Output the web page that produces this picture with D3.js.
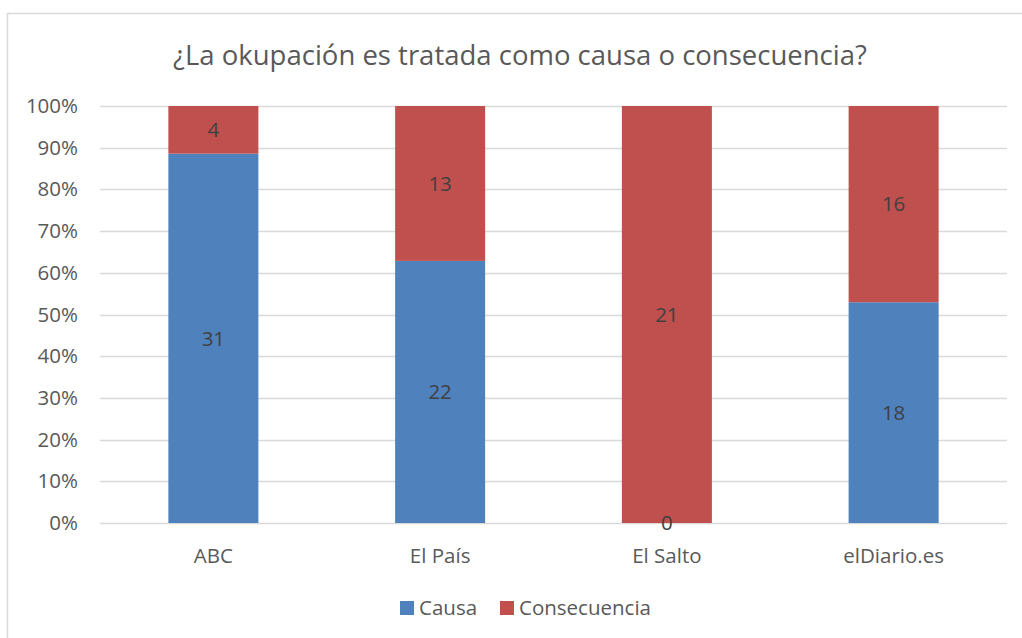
<!DOCTYPE html>
<html>
<head>
<meta charset="utf-8">
<script src="https://cdn.jsdelivr.net/npm/d3@7"></script>
<style>
  body { margin: 0; background: #fff; }
  text { font-family: "Open Sans", "Noto Sans", sans-serif; }
</style>
</head>
<body>
<svg id="chart" width="1022" height="638"></svg>
<script>
// categories and series
var categories = ["ABC", "El País", "El Salto", "elDiario.es"];
var causa = [31, 22, 0, 18];
var consecuencia = [4, 13, 21, 16];
var seriesNames = ["Causa", "Consecuencia"];
var seriesColors = ["#4F81BD", "#C0504D"];
var tickValues = [0, 0.1, 0.2, 0.3, 0.4, 0.5, 0.6, 0.7, 0.8, 0.9, 1];

var svg = d3.select("#chart");
var labelSize = 20.5;

// outer frame like the office chart border
svg.append("rect")
  .attr("x", 7.5).attr("y", 13.5)
  .attr("width", 1030).attr("height", 640)
  .attr("fill", "#fff")
  .attr("stroke", "#d9d9d9")
  .attr("stroke-width", 1.5);

var plot = { left: 100, right: 1007, top: 106, bottom: 523 };

var x = d3.scaleBand()
  .domain(categories)
  .range([plot.left, plot.right])
  .paddingInner(0.603)
  .paddingOuter(0.3015);

var y = d3.scaleLinear().domain([0, 1]).range([plot.bottom, plot.top]);

// title
svg.append("text")
  .attr("x", 520).attr("y", 65)
  .attr("text-anchor", "middle")
  .attr("font-size", 27.5)
  .attr("fill", "#595959")
  .text("¿La okupación es tratada como causa o consecuencia?");

// gridlines
svg.append("g")
  .selectAll("line")
  .data(tickValues)
  .enter().append("line")
  .attr("x1", plot.left).attr("x2", plot.right)
  .attr("y1", function (d) { return Math.round(y(d)) + 0.5; })
  .attr("y2", function (d) { return Math.round(y(d)) + 0.5; })
  .attr("stroke", "#d9d9d9")
  .attr("stroke-width", 1.5);

// y axis labels
var yAxis = d3.axisLeft(y)
  .tickValues(tickValues)
  .tickFormat(d3.format(".0%"))
  .tickSize(0)
  .tickPadding(22);
var gy = svg.append("g")
  .attr("transform", "translate(" + plot.left + ",0)")
  .call(yAxis);
gy.select(".domain").remove();
gy.selectAll("text")
  .attr("font-size", labelSize)
  .attr("fill", "#595959")
  .style("font-family", "'Open Sans', sans-serif");

// x axis labels
var xAxis = d3.axisBottom(x).tickSize(0).tickPadding(25);
var gx = svg.append("g")
  .attr("transform", "translate(0," + plot.bottom + ")")
  .call(xAxis);
gx.select(".domain").remove();
gx.selectAll("text")
  .attr("font-size", labelSize)
  .attr("fill", "#595959")
  .style("font-family", "'Open Sans', sans-serif");

// stacked 100% data
var rows = categories.map(function (c, i) {
  var total = causa[i] + consecuencia[i];
  return { cat: c, Causa: causa[i], Consecuencia: consecuencia[i], total: total };
});

var stack = d3.stack()
  .keys(seriesNames)
  .value(function (d, key) { return d[key] / d.total; });
var layers = stack(rows);

var layerG = svg.append("g")
  .selectAll("g")
  .data(layers)
  .enter().append("g")
  .attr("fill", function (d, i) { return seriesColors[i]; });

layerG.selectAll("rect")
  .data(function (d) { return d; })
  .enter().append("rect")
  .attr("x", function (d) { return x(d.data.cat); })
  .attr("width", x.bandwidth())
  .attr("y", function (d) { return y(d[1]); })
  .attr("height", function (d) { return y(d[0]) - y(d[1]); });

// value labels
layers.forEach(function (layer) {
  svg.append("g")
    .selectAll("text")
    .data(layer)
    .enter().append("text")
    .attr("x", function (d) { return x(d.data.cat) + x.bandwidth() / 2; })
    .attr("y", function (d) { return y((d[0] + d[1]) / 2); })
    .attr("dy", "0.35em")
    .attr("text-anchor", "middle")
    .attr("font-size", labelSize)
    .attr("fill", "#404040")
    .text(function (d) { return d.data[layer.key]; });
});

// legend
var legendItems = [
  { name: seriesNames[0], color: seriesColors[0], x: 400 },
  { name: seriesNames[1], color: seriesColors[1], x: 500 }
];
var lg = svg.append("g").selectAll("g")
  .data(legendItems)
  .enter().append("g")
  .attr("transform", function (d) { return "translate(" + d.x + ",601)"; });
lg.append("rect")
  .attr("width", 14).attr("height", 14)
  .attr("fill", function (d) { return d.color; });
lg.append("text")
  .attr("x", 19).attr("y", 14)
  .attr("font-size", labelSize)
  .attr("fill", "#595959")
  .text(function (d) { return d.name; });
</script>
</body>
</html>
